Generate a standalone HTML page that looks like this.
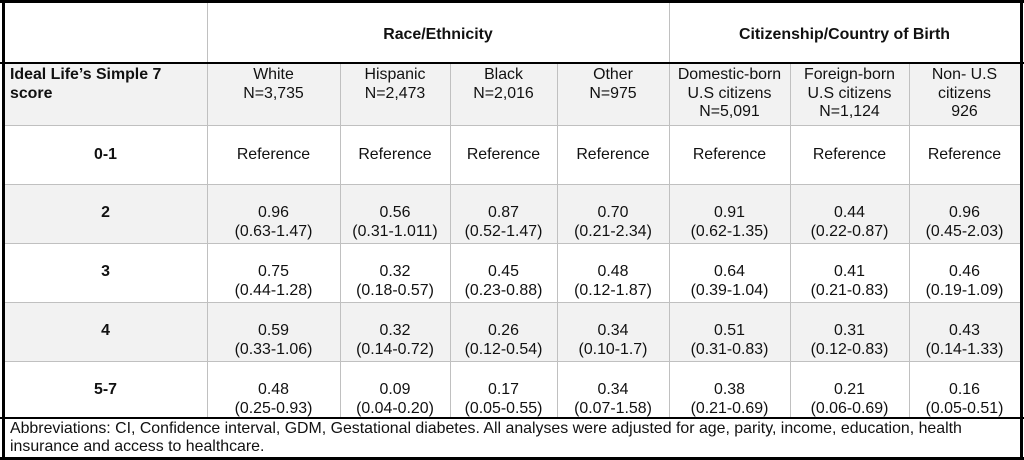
<!DOCTYPE html>
<html><head><meta charset="utf-8"><style>
*{margin:0;padding:0;box-sizing:border-box}
body{width:1024px;height:460px;background:#fff;position:relative;overflow:hidden;font-family:"Liberation Sans",Arial,sans-serif;font-size:15.9px;color:#111}
.a{position:absolute}
.g{background:#f2f2f2}
.v{position:absolute;width:1px;background:#c0c0c0}
.h{position:absolute;height:1px;background:#c0c0c0;left:4px;width:1016px}
.k{position:absolute;background:#000}
.c{position:absolute;text-align:center;line-height:18.5px;white-space:nowrap}
.b{font-weight:bold}
</style></head><body>
<div class="a g" style="left:4px;top:64px;width:1016px;height:61px"></div>
<div class="a g" style="left:4px;top:184px;width:1016px;height:59px"></div>
<div class="a g" style="left:4px;top:302px;width:1016px;height:59px"></div>
<div class="v" style="left:207px;top:0;height:418px"></div>
<div class="v" style="left:669px;top:0;height:418px"></div>
<div class="v" style="left:340px;top:63px;height:355px"></div>
<div class="v" style="left:450px;top:63px;height:355px"></div>
<div class="v" style="left:557px;top:63px;height:355px"></div>
<div class="v" style="left:790px;top:63px;height:355px"></div>
<div class="v" style="left:909px;top:63px;height:355px"></div>
<div class="h" style="top:125px"></div>
<div class="h" style="top:184px"></div>
<div class="h" style="top:243px"></div>
<div class="h" style="top:302px"></div>
<div class="h" style="top:361px"></div>
<div class="k" style="left:0;top:0;width:1024px;height:3px"></div>
<div class="k" style="left:0;top:457px;width:1024px;height:3px"></div>
<div class="k" style="left:2px;top:0;width:3px;height:460px"></div>
<div class="k" style="left:1020px;top:0;width:3px;height:460px"></div>
<div class="k" style="left:0;top:62px;width:1024px;height:2px"></div>
<div class="k" style="left:0;top:417px;width:1024px;height:2px"></div>

<div class="c b" style="left:207px;width:462px;top:26px">Race/Ethnicity</div>
<div class="c b" style="left:669px;width:351px;top:26px">Citizenship/Country of Birth</div>

<div class="a b" style="left:10px;top:66px;line-height:18.5px">Ideal Life’s Simple 7<br>score</div>
<div class="c" style="left:207px;width:133px;top:66px">White<br>N=3,735</div>
<div class="c" style="left:340px;width:110px;top:66px">Hispanic<br>N=2,473</div>
<div class="c" style="left:450px;width:107px;top:66px">Black<br>N=2,016</div>
<div class="c" style="left:557px;width:112px;top:66px">Other<br>N=975</div>
<div class="c" style="left:669px;width:121px;top:66px">Domestic-born<br>U.S citizens<br>N=5,091</div>
<div class="c" style="left:790px;width:119px;top:66px">Foreign-born<br>U.S citizens<br>N=1,124</div>
<div class="c" style="left:909px;width:111px;top:66px">Non- U.S<br>citizens<br>926</div>

<div class="c b" style="left:4px;width:203px;top:146px">0-1</div>
<div class="c" style="left:207px;width:133px;top:146px">Reference</div>
<div class="c" style="left:340px;width:110px;top:146px">Reference</div>
<div class="c" style="left:450px;width:107px;top:146px">Reference</div>
<div class="c" style="left:557px;width:112px;top:146px">Reference</div>
<div class="c" style="left:669px;width:121px;top:146px">Reference</div>
<div class="c" style="left:790px;width:119px;top:146px">Reference</div>
<div class="c" style="left:909px;width:111px;top:146px">Reference</div>

<div class="c b" style="left:4px;width:203px;top:204px">2</div>
<div class="c" style="left:207px;width:133px;top:204px">0.96<br>(0.63-1.47)</div>
<div class="c" style="left:340px;width:110px;top:204px">0.56<br>(0.31-1.011)</div>
<div class="c" style="left:450px;width:107px;top:204px">0.87<br>(0.52-1.47)</div>
<div class="c" style="left:557px;width:112px;top:204px">0.70<br>(0.21-2.34)</div>
<div class="c" style="left:669px;width:121px;top:204px">0.91<br>(0.62-1.35)</div>
<div class="c" style="left:790px;width:119px;top:204px">0.44<br>(0.22-0.87)</div>
<div class="c" style="left:909px;width:111px;top:204px">0.96<br>(0.45-2.03)</div>

<div class="c b" style="left:4px;width:203px;top:263px">3</div>
<div class="c" style="left:207px;width:133px;top:263px">0.75<br>(0.44-1.28)</div>
<div class="c" style="left:340px;width:110px;top:263px">0.32<br>(0.18-0.57)</div>
<div class="c" style="left:450px;width:107px;top:263px">0.45<br>(0.23-0.88)</div>
<div class="c" style="left:557px;width:112px;top:263px">0.48<br>(0.12-1.87)</div>
<div class="c" style="left:669px;width:121px;top:263px">0.64<br>(0.39-1.04)</div>
<div class="c" style="left:790px;width:119px;top:263px">0.41<br>(0.21-0.83)</div>
<div class="c" style="left:909px;width:111px;top:263px">0.46<br>(0.19-1.09)</div>

<div class="c b" style="left:4px;width:203px;top:322px">4</div>
<div class="c" style="left:207px;width:133px;top:322px">0.59<br>(0.33-1.06)</div>
<div class="c" style="left:340px;width:110px;top:322px">0.32<br>(0.14-0.72)</div>
<div class="c" style="left:450px;width:107px;top:322px">0.26<br>(0.12-0.54)</div>
<div class="c" style="left:557px;width:112px;top:322px">0.34<br>(0.10-1.7)</div>
<div class="c" style="left:669px;width:121px;top:322px">0.51<br>(0.31-0.83)</div>
<div class="c" style="left:790px;width:119px;top:322px">0.31<br>(0.12-0.83)</div>
<div class="c" style="left:909px;width:111px;top:322px">0.43<br>(0.14-1.33)</div>

<div class="c b" style="left:4px;width:203px;top:381px">5-7</div>
<div class="c" style="left:207px;width:133px;top:381px">0.48<br>(0.25-0.93)</div>
<div class="c" style="left:340px;width:110px;top:381px">0.09<br>(0.04-0.20)</div>
<div class="c" style="left:450px;width:107px;top:381px">0.17<br>(0.05-0.55)</div>
<div class="c" style="left:557px;width:112px;top:381px">0.34<br>(0.07-1.58)</div>
<div class="c" style="left:669px;width:121px;top:381px">0.38<br>(0.21-0.69)</div>
<div class="c" style="left:790px;width:119px;top:381px">0.21<br>(0.06-0.69)</div>
<div class="c" style="left:909px;width:111px;top:381px">0.16<br>(0.05-0.51)</div>

<div class="a" style="left:10px;top:420px;line-height:18px;width:1005px;white-space:nowrap">Abbreviations: CI, Confidence interval, GDM, Gestational diabetes. All analyses were adjusted for age, parity, income, education, health<br>insurance and access to healthcare.</div>
</body></html>
